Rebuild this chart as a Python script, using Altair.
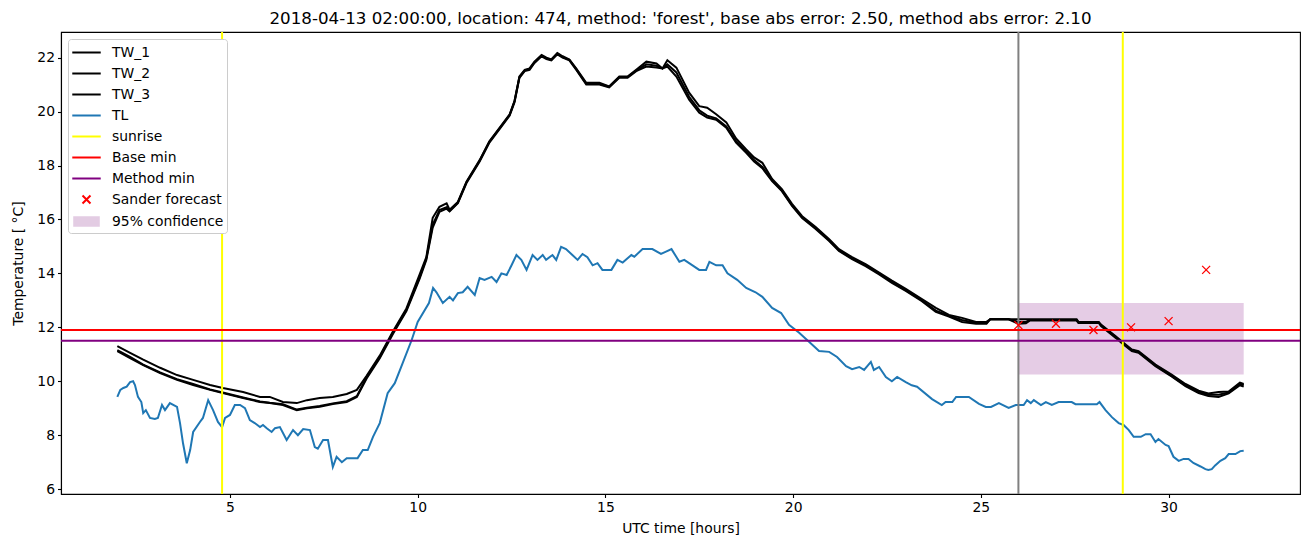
import altair as alt
import pandas as pd

# ---------------- data ----------------
tw_hours = [2.0, 2.34, 2.69, 3.14, 3.59, 4.02, 4.47, 4.81, 5.35, 5.8,
            6.06, 6.41, 6.78, 7.05, 7.39, 7.74, 8.11, 8.38, 8.64, 8.99,
            9.34, 9.7, 10.05, 10.23, 10.4, 10.58, 10.77, 10.85, 11.07, 11.3,
            11.65, 11.91, 12.18, 12.45, 12.58, 12.71, 12.85, 12.98, 13.11, 13.3,
            13.43, 13.56, 13.72, 13.86, 14.04, 14.22, 14.49, 14.84, 15.1, 15.37,
            15.59, 15.82, 16.09, 16.36, 16.52, 16.65, 16.89, 17.23, 17.5, 17.71,
            17.95, 18.22, 18.48, 18.75, 18.96, 19.18, 19.44, 19.7, 19.97, 20.24,
            20.6, 20.96, 21.22, 21.57, 21.94, 22.29, 22.63, 23.0, 23.43, 23.8,
            24.15, 24.5, 24.87, 25.15, 25.25, 25.74, 26.0, 26.2, 26.3, 27.0,
            27.55, 27.6, 28.14, 28.2, 28.6, 28.75, 29.02, 29.2, 29.65, 30.08,
            30.45, 30.8, 31.06, 31.33, 31.6, 31.9, 32.0]

tw_1 = [11.3, 11.05, 10.8, 10.5, 10.23, 10.05, 9.86, 9.75, 9.6, 9.42,
        9.42, 9.23, 9.19, 9.3, 9.38, 9.42, 9.53, 9.68, 10.2, 10.95,
        11.85, 12.7, 13.95, 14.6, 16.06, 16.47, 16.6, 16.36, 16.65, 17.4,
        18.2, 18.9, 19.4, 19.9, 20.4, 21.3, 21.55, 21.6, 21.85, 22.1,
        22.0, 21.93, 22.17, 22.05, 21.93, 21.6, 21.07, 21.07, 20.93, 21.3,
        21.3, 21.55, 21.85, 21.78, 21.6, 21.9, 21.63, 20.7, 20.2, 20.14,
        19.9, 19.6, 19.0, 18.6, 18.3, 18.1, 17.5, 17.12, 16.58, 16.12,
        15.72, 15.27, 14.9, 14.6, 14.33, 14.03, 13.73, 13.43, 13.05, 12.72,
        12.46, 12.35, 12.2, 12.2, 12.3, 12.3, 12.3, 12.3, 12.3, 12.3,
        12.3, 12.2, 12.2, 12.1, 11.66, 11.48, 11.18, 11.12, 10.62, 10.25,
        9.9, 9.65, 9.55, 9.6, 9.62, 9.95, 9.9]

tw_2 = [11.12, 10.86, 10.6, 10.3, 10.05, 9.86, 9.68, 9.56, 9.38, 9.23,
        9.19, 9.12, 8.93, 9.0, 9.05, 9.16, 9.23, 9.42, 10.1, 10.85,
        11.75, 12.6, 13.8, 14.5, 15.7, 16.28, 16.4, 16.3, 16.6, 17.35,
        18.15, 18.85, 19.35, 19.85, 20.35, 21.25, 21.5, 21.55, 21.8, 22.05,
        21.95, 21.9, 22.12, 22.0, 21.9, 21.55, 21.0, 21.0, 20.9, 21.25,
        21.25, 21.5, 21.67, 21.63, 21.6, 21.67, 21.3, 20.44, 19.96, 19.78,
        19.7, 19.4, 18.85, 18.47, 18.15, 17.9, 17.42, 17.05, 16.5, 16.05,
        15.65, 15.2, 14.83, 14.53, 14.26, 13.96, 13.65, 13.35, 12.97, 12.57,
        12.4, 12.2, 12.13, 12.13, 12.3, 12.3, 12.13, 12.15, 12.25, 12.25,
        12.25, 12.16, 12.16, 12.05, 11.6, 11.42, 11.12, 11.06, 10.56, 10.18,
        9.82, 9.56, 9.45, 9.42, 9.55, 9.85, 9.8]

tw_3 = [11.15, 10.9, 10.62, 10.33, 10.08, 9.9, 9.7, 9.58, 9.4, 9.25,
        9.2, 9.15, 8.95, 9.02, 9.08, 9.18, 9.26, 9.45, 10.15, 10.9,
        11.8, 12.65, 13.85, 14.55, 15.8, 16.35, 16.45, 16.32, 16.62, 17.38,
        18.18, 18.88, 19.38, 19.88, 20.38, 21.28, 21.52, 21.58, 21.82, 22.08,
        21.97, 21.92, 22.15, 22.02, 21.92, 21.58, 21.03, 21.03, 20.92, 21.28,
        21.28, 21.52, 21.75, 21.7, 21.6, 21.75, 21.45, 20.55, 20.05, 19.85,
        19.75, 19.45, 18.9, 18.52, 18.2, 17.95, 17.45, 17.08, 16.53, 16.08,
        15.68, 15.23, 14.86, 14.56, 14.3, 14.0, 13.68, 13.38, 13.0, 12.62,
        12.43, 12.27, 12.16, 12.16, 12.3, 12.3, 12.2, 12.2, 12.27, 12.27,
        12.27, 12.18, 12.18, 12.08, 11.63, 11.45, 11.15, 11.09, 10.59, 10.2,
        9.85, 9.6, 9.5, 9.5, 9.58, 9.9, 9.85]

tl_hours = [2.0, 2.08, 2.16, 2.25, 2.34, 2.42, 2.47, 2.55, 2.64, 2.69,
            2.76, 2.87, 3.0, 3.08, 3.19, 3.27, 3.4, 3.59, 3.67, 3.75,
            3.85, 3.94, 4.02, 4.2, 4.28, 4.42, 4.55, 4.68, 4.79, 4.87,
            5.0, 5.13, 5.27, 5.4, 5.53, 5.66, 5.8, 5.88, 5.98, 6.11,
            6.2, 6.33, 6.51, 6.68, 6.81, 6.95, 7.13, 7.26, 7.34, 7.48,
            7.61, 7.74, 7.84, 7.98, 8.11, 8.27, 8.4, 8.54, 8.67, 8.81,
            8.99, 9.2, 9.39, 9.6, 9.84, 10.0, 10.3, 10.41, 10.5, 10.67,
            10.85, 10.94, 11.07, 11.2, 11.33, 11.52, 11.65, 11.78, 11.97, 12.1,
            12.23, 12.37, 12.5, 12.63, 12.76, 12.9, 13.06, 13.19, 13.33, 13.42,
            13.59, 13.69, 13.82, 13.95, 14.12, 14.26, 14.39, 14.52, 14.66, 14.79,
            14.92, 15.16, 15.32, 15.46, 15.69, 15.77, 15.99, 16.25, 16.48, 16.6,
            16.76, 16.97, 17.1, 17.23, 17.5, 17.68, 17.77, 17.95, 18.12, 18.25,
            18.51, 18.75, 19.0, 19.18, 19.44, 19.68, 19.89, 20.16, 20.43, 20.69,
            20.96, 21.17, 21.41, 21.57, 21.76, 21.89, 22.07, 22.15, 22.29, 22.47,
            22.63, 22.77, 23.0, 23.16, 23.3, 23.7, 23.96, 24.06, 24.24, 24.34,
            24.68, 24.95, 25.13, 25.27, 25.48, 25.74, 25.93, 26.14, 26.23, 26.33,
            26.41, 26.6, 26.73, 26.89, 27.07, 27.42, 27.52, 28.09, 28.16, 28.32,
            28.49, 28.67, 28.8, 28.94, 29.07, 29.26, 29.39, 29.52, 29.65, 29.73,
            29.92, 30.0, 30.13, 30.27, 30.4, 30.53, 30.66, 30.85, 30.98, 31.06,
            31.15, 31.24, 31.38, 31.51, 31.6, 31.78, 31.91, 32.0]

tl_values = [9.42, 9.68, 9.75, 9.8, 9.97, 10.0, 9.86, 9.42, 9.23, 8.82,
             8.93, 8.64, 8.6, 8.64, 9.12, 8.93, 9.19, 9.05, 8.45, 7.7,
             6.96, 7.45, 8.12, 8.49, 8.64, 9.3, 8.93, 8.49, 8.3, 8.64,
             8.75, 9.12, 9.12, 9.0, 8.56, 8.45, 8.3, 8.38, 8.26, 8.12,
             8.26, 8.3, 7.82, 8.19, 8.0, 8.23, 8.19, 7.56, 7.5, 7.82,
             7.82, 6.82, 7.2, 7.0, 7.15, 7.15, 7.15, 7.45, 7.45, 7.94,
             8.45, 9.56, 9.93, 10.67, 11.53, 12.2, 12.9, 13.46, 13.3, 12.9,
             13.13, 13.0, 13.27, 13.3, 13.5, 13.2, 13.83, 13.76, 13.87, 13.68,
             14.0, 13.94, 14.3, 14.68, 14.5, 14.13, 14.68, 14.5, 14.68, 14.5,
             14.68, 14.5, 14.98, 14.9, 14.68, 14.5, 14.72, 14.6, 14.3, 14.38,
             14.13, 14.13, 14.5, 14.4, 14.68, 14.62, 14.9, 14.9, 14.72, 14.8,
             14.9, 14.43, 14.5, 14.38, 14.13, 14.13, 14.43, 14.3, 14.3, 14.0,
             13.76, 13.46, 13.3, 13.13, 12.72, 12.53, 12.09, 11.8, 11.46, 11.12,
             11.09, 10.9, 10.56, 10.45, 10.53, 10.42, 10.72, 10.42, 10.53, 10.16,
             10.0, 10.16, 9.97, 9.85, 9.8, 9.34, 9.12, 9.23, 9.23, 9.42,
             9.42, 9.16, 9.05, 9.05, 9.19, 9.01, 9.12, 9.12, 9.3, 9.19,
             9.3, 9.12, 9.23, 9.12, 9.23, 9.23, 9.15, 9.15, 9.23, 8.93,
             8.67, 8.45, 8.38, 8.19, 7.94, 7.94, 8.04, 8.04, 7.75, 7.86,
             7.64, 7.6, 7.2, 7.05, 7.12, 7.12, 6.97, 6.84, 6.74, 6.71,
             6.74, 6.88, 7.05, 7.15, 7.3, 7.3, 7.41, 7.42]

sunrise_hours = [4.79, 28.78]
now_hour = [26.0]
base_min = [11.9]
method_min = [11.5]
forecast_hours = [26, 27, 28, 29, 30, 31]
forecast_values = [12.08, 12.13, 11.9, 12.0, 12.23, 14.13]
conf_start, conf_end = [26.0], [32.0]
conf_low, conf_high = [10.25], [12.9]

labels = ["TW_1", "TW_2", "TW_3", "TL", "sunrise", "Base min",
          "Method min", "Sander forecast", "95% confidence"]
palette = ["black", "black", "black", "#1f77b4", "yellow", "red",
           "purple", "red", "#e3cce3"]

title_text = ("2018-04-13 02:00:00, location: 474, method: 'forest', "
              "base abs error: 2.50, method abs error: 2.10")

# ---------------- tables ----------------
frames = []
for name, vals in [("TW_1", tw_1), ("TW_2", tw_2), ("TW_3", tw_3)]:
    frames.append(pd.DataFrame({"hour": tw_hours, "value": vals, "series": name}))
frames.append(pd.DataFrame({"hour": tl_hours, "value": tl_values, "series": "TL"}))
lines_df = pd.concat(frames, ignore_index=True)

sun_df = pd.DataFrame({"hour": sunrise_hours, "series": "sunrise"})
hmin_df = pd.DataFrame({"value": base_min + method_min,
                        "series": ["Base min", "Method min"]})
fc_df = pd.DataFrame({"hour": forecast_hours, "value": forecast_values,
                      "series": "Sander forecast"})
band_df = pd.DataFrame({"x1": conf_start, "x2": conf_end,
                        "y1": conf_low, "y2": conf_high})
now_df = pd.DataFrame({"hour": now_hour})

# legend symbols (custom paths in unit coordinates)
line_sym = "M-1.5,0L1.5,0"
x_sym = "M-0.42,-0.42L0.42,0.42M-0.42,0.42L0.42,-0.42"
patch_sym = "".join(f"M-1.4,{y:.2f}L1.4,{y:.2f}" for y in
                    [-0.45, -0.35, -0.25, -0.15, -0.05, 0.05, 0.15, 0.25, 0.35, 0.45])
shapes = [line_sym] * 7 + [x_sym, patch_sym]

color_scale = alt.Scale(domain=labels, range=palette)
shape_scale = alt.Scale(domain=labels, range=shapes)

xs = alt.Scale(domain=[0.5, 33.5], nice=False, zero=False)
ys = alt.Scale(domain=[5.82, 22.95], nice=False, zero=False)

X = alt.X("hour:Q", scale=xs, title="UTC time [hours]",
          axis=alt.Axis(values=[5, 10, 15, 20, 25, 30], format="d"))
Y = alt.Y("value:Q", scale=ys, title="Temperature [ °C]",
          axis=alt.Axis(values=[6, 8, 10, 12, 14, 16, 18, 20, 22], format="d"))

color_enc = alt.Color("series:N", scale=color_scale, legend=alt.Legend(title=None))

LW = 2.0

band = alt.Chart(band_df).mark_rect(color="#e5cce5").encode(
    x=alt.X("x1:Q", scale=xs), x2="x2:Q",
    y=alt.Y("y1:Q", scale=ys), y2="y2:Q")

lines = alt.Chart(lines_df).mark_line(strokeWidth=LW).encode(
    x=X, y=Y, color=color_enc, order="hour:Q")

now_rule = alt.Chart(now_df).mark_rule(color="gray", strokeWidth=LW).encode(
    x=alt.X("hour:Q", scale=xs))

sun_rule = alt.Chart(sun_df).mark_rule(strokeWidth=LW).encode(
    x=alt.X("hour:Q", scale=xs), color=color_enc)

hmin_rule = alt.Chart(hmin_df).mark_rule(strokeWidth=LW).encode(
    y=alt.Y("value:Q", scale=ys), color=color_enc)

fc = alt.Chart(fc_df).mark_point(filled=False, strokeWidth=1.3, size=360, opacity=1).encode(
    x=alt.X("hour:Q", scale=xs), y=alt.Y("value:Q", scale=ys),
    color=color_enc,
    shape=alt.Shape("series:N", scale=shape_scale, legend=alt.Legend(title=None)))

chart = alt.layer(band, lines, now_rule, sun_rule, hmin_rule, fc).properties(
    width=1239, height=462,
    title=alt.TitleParams(title_text, fontSize=16.7, font="DejaVu Sans",
                          fontWeight="normal", anchor="middle", offset=3,
                          color="black"),
    autosize=alt.AutoSizeParams(type="none"),
    padding={"left": 61, "top": 32, "right": 11, "bottom": 53},
).configure_view(
    stroke="black", strokeWidth=1.1
).configure_axis(
    grid=False, domainColor="black", tickColor="black", tickSize=3.5,
    tickWidth=1.1, domainWidth=1.1,
    labelColor="black", labelFontSize=13.9, labelFont="DejaVu Sans",
    titleFont="DejaVu Sans", titleFontSize=13.9, titleFontWeight="normal",
    titleColor="black", labelPadding=3
).configure_axisX(
    titlePadding=7
).configure_axisY(
    titlePadding=11
).configure_legend(
    orient="top-left", offset=7, symbolSize=360, symbolStrokeWidth=2,
    labelFontSize=13.9, labelFont="DejaVu Sans", labelColor="black",
    symbolOffset=5, labelOffset=15, padding=3, fillColor="white",
    strokeColor="#cccccc", cornerRadius=3, rowPadding=3,
)

chart.save("out.html", embed_options={"renderer": "svg", "actions": False})
